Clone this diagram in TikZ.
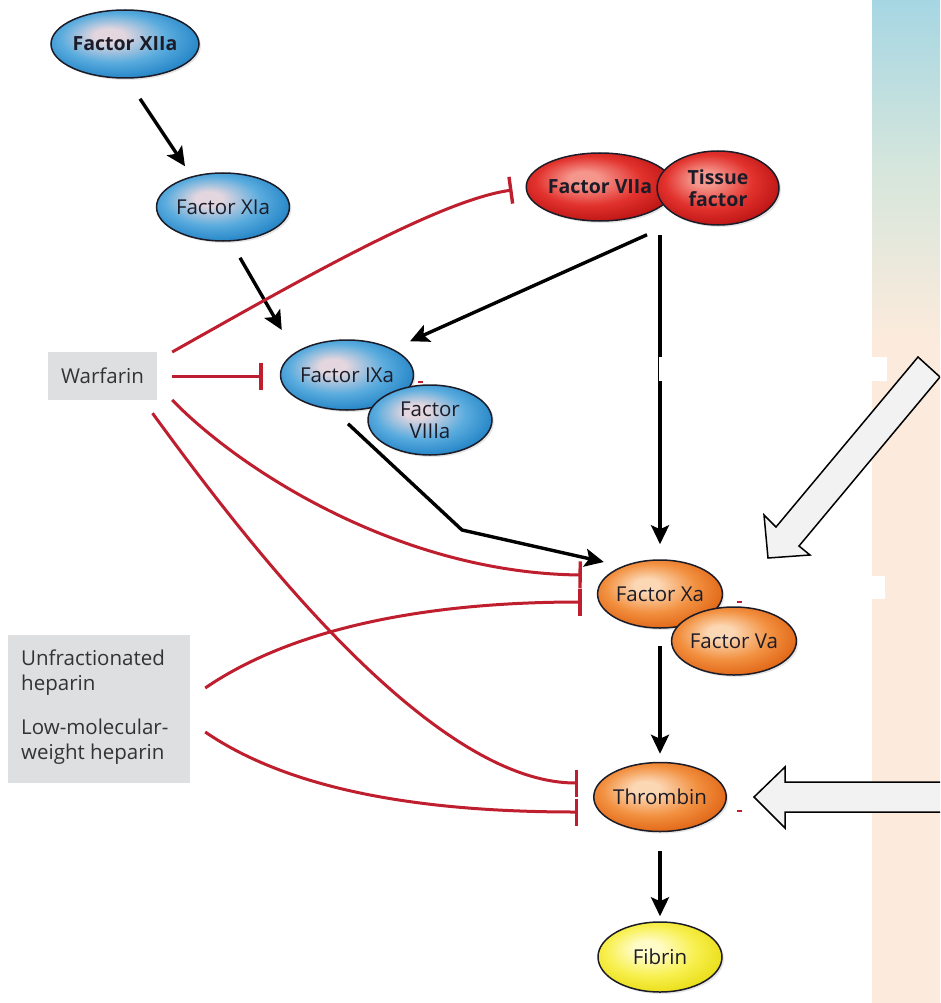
\documentclass[tikz,border=0pt]{standalone}
\usepackage{fontspec}
\setmainfont{Open Sans}
\usetikzlibrary{shapes.geometric,arrows.meta,shadows}
\definecolor{inh}{RGB}{190,30,45}
\definecolor{bhi}{RGB}{228,214,222}
\definecolor{bmid}{RGB}{90,172,222}
\definecolor{bedge}{RGB}{30,128,196}
\definecolor{rhi}{RGB}{245,150,140}
\definecolor{rmid}{RGB}{226,50,45}
\definecolor{redge}{RGB}{185,18,18}
\definecolor{ohi}{RGB}{252,215,180}
\definecolor{omid}{RGB}{242,145,65}
\definecolor{oedge}{RGB}{222,98,18}
\definecolor{yhi}{RGB}{255,252,200}
\definecolor{ymid}{RGB}{248,240,80}
\definecolor{yedge}{RGB}{232,220,18}
\definecolor{boxgray}{RGB}{221,223,225}
\definecolor{txt}{RGB}{28,28,40}
\definecolor{stripblue}{RGB}{166,214,227}
\definecolor{stripmid}{RGB}{214,230,220}
\definecolor{strippeach}{RGB}{252,235,220}
\definecolor{hollow}{RGB}{242,242,242}
\pgfdeclareradialshading{blueball}{\pgfpoint{-6bp}{7bp}}{color(0bp)=(bhi); color(5bp)=(bhi); color(18bp)=(bmid); color(30bp)=(bedge); color(50bp)=(bedge)}
\pgfdeclareradialshading{redball}{\pgfpoint{-6bp}{7bp}}{color(0bp)=(rhi); color(5bp)=(rhi); color(18bp)=(rmid); color(30bp)=(redge); color(50bp)=(redge)}
\pgfdeclareradialshading{orangeball}{\pgfpoint{-6bp}{7bp}}{color(0bp)=(ohi); color(5bp)=(ohi); color(18bp)=(omid); color(30bp)=(oedge); color(50bp)=(oedge)}
\pgfdeclareradialshading{yellowball}{\pgfpoint{-6bp}{7bp}}{color(0bp)=(yhi); color(5bp)=(yhi); color(18bp)=(ymid); color(30bp)=(yedge); color(50bp)=(yedge)}
\tikzset{
  fac/.style={ellipse, draw=txt, line width=1.5pt, minimum width=124pt, minimum height=68pt,
    inner sep=0pt, text=txt, align=center, font=\fontsize{20.5}{22}\selectfont,
    drop shadow={opacity=0.2, shadow xshift=2pt, shadow yshift=-2pt}},
  facb/.style={fac, font=\fontsize{19.5}{22}\selectfont\bfseries},
  bluef/.style={shading=blueball},
  redf/.style={shading=redball},
  orangef/.style={shading=orangeball},
  yellowf/.style={shading=yellowball},
  drug/.style={rectangle, fill=boxgray, inner sep=0pt, text=black!80},
  act/.style={draw=black, line width=3.4pt, -{Stealth[length=19pt,width=18pt,inset=4pt]}},
  inhib/.style={draw=inh, line width=3pt, -{Bar[width=27pt,line width=3.4pt]}},
  arrowbig/.style={fill=hollow, draw=black, line width=1.5pt, line join=miter}
}
\begin{document}
\begin{tikzpicture}[x=1pt,y=-1pt]
\useasboundingbox (0,0) rectangle (940,1003);
\clip (0,0) rectangle (940,1003);
% right-hand strip
\fill[strippeach] (872,0) rectangle (940,1003);
\shade[top color=stripblue, bottom color=strippeach, middle color=stripmid] (872,0) rectangle (940,340);

% nodes
\node[facb,bluef] (XIIa) at (125,44) {Factor XIIa};
\node[fac,bluef] (XIa) at (223,207) {Factor XIa};
\node[facb,redf] (VIIa) at (600,187) {Factor VIIa};
\node[facb,redf,minimum width=122pt,minimum height=74pt] (TF) at (718,188) {Tissue\\factor};
\node[fac,bluef,minimum height=70pt] (IXa) at (347,375) {Factor IXa};
\node[fac,bluef,minimum height=70pt] (VIIIa) at (430,420) {Factor\\VIIIa};
\node[fac,orangef] (Xa) at (660,594) {Factor Xa};
\node[fac,orangef] (Va) at (734,641) {Factor Va};
\node[fac,orangef,minimum height=69pt] (Thr) at (660,797) {Thrombin};
\node[fac,yellowf,minimum height=70pt] (Fib) at (660,957) {Fibrin};

\node[drug, minimum width=109pt, minimum height=48pt, font=\fontsize{20.5}{22}\selectfont] (Warf) at (102.5,376) {Warfarin};
\node[drug, minimum width=182pt, minimum height=148pt] (Hep) at (99,709) {};
\node[anchor=west, align=left, inner sep=0pt, text=black!80, font=\fontsize{20.5}{25}\selectfont] (UFH) at (21,673) {Unfractionated\\heparin};
\node[anchor=west, align=left, inner sep=0pt, text=black!80, font=\fontsize{20.5}{25}\selectfont] (LMWH) at (21,742) {Low-molecular-\\weight heparin};

% activation arrows
\draw[act] ([shift={(15,20)}]XIIa.south) -- ([shift={(-38,-6)}]XIa.north);
\draw[act] ([shift={(17,16)}]XIa.south) -- ([shift={(2,-45)}]IXa.west);
\draw[act] ([shift={(47,13)}]VIIa.south) -- ([shift={(63,2)}]IXa.north);
\draw[act] ([shift={(60,13)}]VIIa.south) -- ([shift={(0,-15)}]Xa.north);
\coordinate (bend) at (462,530);
\draw[act] ([shift={(1,13)}]IXa.south) -- (bend) -- ([shift={(7,-32)}]Xa.west);
\draw[act] ([shift={(0,17)}]Xa.south) -- ([shift={(0,-8)}]Thr.north);
\draw[act] ([shift={(0,19)}]Thr.south) -- ([shift={(0,-5)}]Fib.north);

% inhibition lines
\draw[inhib] ([shift={(15,-24)}]Warf.east) .. controls (300,280) and (440,200) .. ([shift={(-13,3)}]VIIa.west);
\draw[inhib] ([shift={(15,0)}]Warf.east) -- ([shift={(-17,1)}]IXa.west);
\draw[inhib] ([shift={(15,24)}]Warf.east) .. controls (240,470) and (400,573) .. ([shift={(-15,-19)}]Xa.west);
\draw[inhib] ([shift={(50,13)}]Warf.south) .. controls (245,540) and (430,783) .. ([shift={(-15,-14)}]Thr.west);
\draw[inhib] ([shift={(15,-21)}]Hep.east) .. controls (290,630) and (420,602) .. ([shift={(-15,8)}]Xa.west);
\draw[inhib] ([shift={(15,23)}]Hep.east) .. controls (290,790) and (420,812) .. ([shift={(-15,15)}]Thr.west);

% tiny red marks
\draw[inh, line width=1.5pt] (418,382) -- (423,382);
\draw[inh, line width=1.5pt] (737,602) -- (742,602);
\draw[inh, line width=1.2pt] (737,811) -- (742,811);

% white bars
\fill[white] (659,357) rectangle (887,381);
\fill[white] (732,576) rectangle (885,599);

% hollow block arrows
\draw[arrowbig] (768,558) -- (764,515) -- (776,527) -- (918,357) -- (940,377) -- (799,546) -- (810,555) -- cycle;
\draw[arrowbig] (754,797) -- (785,767) -- (785,782) -- (950,782) -- (950,812) -- (785,812) -- (785,828) -- cycle;
\end{tikzpicture}
\end{document}
